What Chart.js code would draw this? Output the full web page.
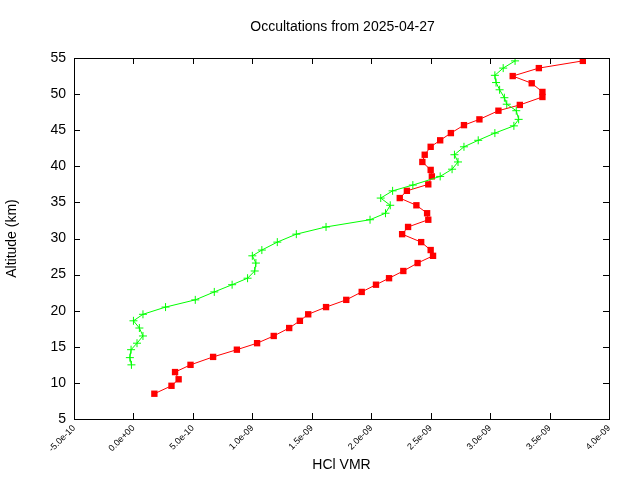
<!DOCTYPE html>
<html><head><meta charset="utf-8">
<script src="https://cdn.jsdelivr.net/npm/chart.js@4"></script>
<style>html,body{margin:0;padding:0;background:#fff}#w{width:640px;height:480px}</style>
</head><body><div id="w"><canvas id="c"></canvas></div>
<script>
const titleText = "Occultations from 2025-04-27";
const redX = [1.76,3.2,3.8,3.5,4.8,6.7,8.7,10.4,11.8,13.1,14.0,14.7,16.2,17.9,19.2,20.4,21.5,22.7,23.9,25.2,25.0,24.2,22.6,23.1,24.8,24.7,23.8,22.4,23.0,24.8,25.1,25.0,24.3,24.5,25.0,25.8,26.7,27.8,29.1,30.7,32.5,34.4,34.4,33.5,31.9,34.1,37.8];
const redAlt = [8.5,9.6,10.5,11.5,12.5,13.6,14.6,15.5,16.5,17.6,18.6,19.5,20.5,21.5,22.6,23.6,24.5,25.5,26.6,27.6,28.4,29.5,30.6,31.6,32.6,33.5,34.6,35.6,36.6,37.5,38.6,39.5,40.6,41.6,42.7,43.6,44.6,45.7,46.5,47.7,48.5,49.6,50.3,51.5,52.5,53.6,54.6];
const greenX = [-0.17,-0.3,-0.2,0.3,0.8,0.5,0.0,0.8,2.7,5.2,6.8,8.3,9.6,10.2,10.3,10.0,10.8,12.1,13.7,16.2,19.9,21.2,21.6,20.8,21.8,23.5,25.8,26.8,27.3,27.0,27.8,29.0,30.4,32.0,32.4,32.2,31.4,31.2,30.8,30.5,30.4,31.1,32.1];
const greenAlt = [12.5,13.5,14.6,15.5,16.5,17.6,18.6,19.5,20.5,21.5,22.6,23.6,24.5,25.5,26.6,27.6,28.4,29.5,30.6,31.6,32.6,33.5,34.6,35.6,36.6,37.4,38.6,39.6,40.6,41.6,42.7,43.6,44.6,45.6,46.5,47.7,48.6,49.5,50.6,51.6,52.6,53.6,54.6];
const xTicks = [-5e-10,0,5e-10,1e-9,1.5e-9,2e-9,2.5e-9,3e-9,3.5e-9,4e-9];
const yTicks = [5,10,15,20,25,30,35,40,45,50,55];
const UNIT = 1e-10;

function fmt(v){
  if (Math.abs(v) < 1e-20) return "0.0e+00";
  let e = Math.floor(Math.log10(Math.abs(v)) + 1e-9);
  let m = v / Math.pow(10, e);
  return m.toFixed(1) + "e" + (e < 0 ? "-" : "+") + String(Math.abs(e)).padStart(2, "0");
}
const pts = (xs, ys) => xs.map((x, i) => ({x: x * UNIT, y: ys[i]}));

const deco = {
  id: 'deco',
  afterDraw(ch) {
    const c = ch.ctx, a = ch.chartArea, xs = ch.scales.x, ys = ch.scales.y;
    c.save();
    c.strokeStyle = '#000'; c.lineWidth = 1;
    c.strokeRect(a.left + 0.5, a.top + 0.5, a.right - a.left, a.bottom - a.top);
    c.beginPath();
    xTicks.forEach(v => { const p = Math.round(xs.getPixelForValue(v)) + 0.5;
      c.moveTo(p, a.bottom); c.lineTo(p, a.bottom - 6); c.moveTo(p, a.top); c.lineTo(p, a.top + 6); });
    yTicks.forEach(v => { const p = Math.round(ys.getPixelForValue(v)) + 0.5;
      c.moveTo(a.left, p); c.lineTo(a.left + 6, p); c.moveTo(a.right, p); c.lineTo(a.right - 6, p); });
    c.stroke();
    c.fillStyle = '#000'; c.font = '14px "Liberation Sans", Arial, sans-serif';
    c.textAlign = 'center'; c.textBaseline = 'middle';
    c.fillText(titleText, (a.left + a.right) / 2 + 1, 27);
    c.restore();
  }
};

new Chart(document.getElementById('c'), {
  type: 'scatter',
  data: { datasets: [
    { data: pts(greenX, greenAlt), showLine: true, borderColor: '#00ff00', backgroundColor: '#00ff00',
      borderWidth: 1, pointStyle: 'cross', pointRadius: 4, pointBorderWidth: 1 },
    { data: pts(redX, redAlt), showLine: true, borderColor: '#ff0000', backgroundColor: '#ff0000',
      borderWidth: 1, pointStyle: 'rect', pointRadius: 4.5, pointBorderWidth: 0 }
  ]},
  options: {
    animation: false, responsive: true, maintainAspectRatio: false,
    layout: { padding: { top: 58, right: 31, left: 0, bottom: 0 } },
    plugins: { legend: { display: false }, title: { display: false }, tooltip: { enabled: false } },
    scales: {
      x: { type: 'linear', min: -5e-10, max: 4e-9,
        afterBuildTicks: s => { s.ticks = xTicks.map(v => ({value: v})); },
        afterFit: s => { s.height = 61; },
        grid: { display: false, drawTicks: false }, border: { display: false },
        ticks: { callback: v => fmt(v), minRotation: 45, maxRotation: 45, color: '#000', padding: 4,
          font: { size: 9, family: '"Liberation Sans", Arial, sans-serif' } },
        title: { display: true, text: 'HCl VMR', color: '#000', padding: { top: 0, bottom: 6 },
          font: { size: 14, family: '"Liberation Sans", Arial, sans-serif' } } },
      y: { type: 'linear', min: 5, max: 55,
        afterBuildTicks: s => { s.ticks = yTicks.map(v => ({value: v})); },
        afterFit: s => { s.width = 74; },
        grid: { display: false, drawTicks: false }, border: { display: false },
        ticks: { color: '#000', padding: 8, font: { size: 14, family: '"Liberation Sans", Arial, sans-serif' } },
        title: { display: true, text: 'Altitude (km)', color: '#000', padding: { top: 4, bottom: 0 },
          font: { size: 14, family: '"Liberation Sans", Arial, sans-serif' } } }
    }
  },
  plugins: [deco]
});
</script></body></html>
